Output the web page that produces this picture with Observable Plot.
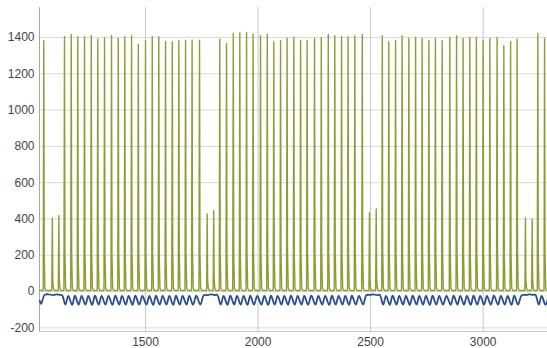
<!DOCTYPE html>
<html><head><meta charset="utf-8">
<script src="https://cdn.jsdelivr.net/npm/d3@7"></script>
<script src="https://cdn.jsdelivr.net/npm/@observablehq/plot@0.6"></script>
<style>body{margin:0;background:#fff} svg{display:block}</style>
</head><body><div id="chart"></div>
<script>
// Green series: spike peak positions and heights
const spikeX = [1048,1086,1115,1140,1170,1199,1229,1259,1288,1318,1349,1379,1408,1438,1468,1500,1530,1559,1589,1619,
  1648,1678,1707,1740,1774,1803,1830,1860,1890,1919,1949,1978,2011,2041,2070,2100,2129,2159,2189,2218,
  2251,2281,2312,2341,2371,2400,2430,2463,2495,2525,2552,2581,2611,2640,2670,2700,2729,2759,2788,2818,
  2852,2882,2911,2941,2970,3000,3030,3062,3092,3122,3151,3188,3218,3243,3273];
const spikeY = [1382,406,419,1404,1417,1404,1404,1409,1391,1398,1409,1394,1404,1409,1363,1382,1404,1404,1376,1376,
  1382,1385,1385,1385,428,446,1391,1367,1422,1426,1428,1418,1409,1418,1376,1382,1395,1400,1385,1385,
  1395,1400,1417,1409,1404,1404,1409,1417,435,455,1409,1376,1385,1409,1394,1400,1394,1385,1394,1382,
  1400,1409,1394,1400,1400,1385,1394,1400,1354,1376,1391,406,400,1422,1394];
const greenBase = 6;
// Blue series: trough just after each spike, crest between spikes
const blueLow = [-18,-20,-18,-72,-73,-72,-72,-73,-72,-72,-73,-72,-72,-73,-72,-72,-73,-72,-72,-73,
  -72,-72,-73,-72,-20,-19,-72,-73,-72,-72,-73,-72,-72,-73,-72,-72,-73,-72,-72,-73,
  -72,-72,-73,-72,-72,-73,-72,-72,-18,-20,-72,-73,-72,-72,-73,-72,-72,-73,-72,-72,
  -73,-72,-72,-73,-72,-72,-73,-72,-72,-73,-72,-19,-18,-72,-73];
const blueHigh = [-15,-15,-20,-24,-23,-24,-24,-23,-24,-24,-23,-24,-24,-23,-24,-24,-23,-24,-24,-23,
  -24,-24,-23,-20,-15,-18,-24,-23,-24,-24,-23,-24,-24,-23,-24,-24,-23,-24,-24,-23,
  -24,-24,-23,-24,-24,-23,-24,-20,-15,-18,-24,-23,-24,-24,-23,-24,-24,-23,-24,-24,
  -23,-24,-24,-23,-24,-24,-23,-24,-24,-23,-20,-15,-18,-24,-24];
const blueStartX = [1030, 1036];
const blueStartY = [-50, -68];
const xTicks = [1500, 2000, 2500, 3000];
const yTicks = [-200, 0, 200, 400, 600, 800, 1000, 1200, 1400];
const xDomain = [1029, 3286];
const yDomain = [-220, 1565];

const green = [{x: xDomain[0], y: greenBase}];
spikeX.forEach((t, i) => {
  const h = spikeY[i];
  green.push({x: t - 2.5, y: greenBase}, {x: t, y: h}, {x: t + 2, y: h * 0.15}, {x: t + 5, y: greenBase + 12}, {x: t + 9, y: greenBase});
});
green.push({x: xDomain[1], y: greenBase});

const blue = blueStartX.map((x, i) => ({x, y: blueStartY[i]}));
spikeX.forEach((t, i) => {
  blue.push({x: t + 4, y: blueLow[i]});
  const next = i + 1 < spikeX.length ? spikeX[i + 1] : t + 30;
  blue.push({x: (t + next) / 2 + 2, y: blueHigh[i]});
});

const chart = Plot.plot({
  width: 547, height: 348,
  marginLeft: 39, marginRight: 0, marginTop: 7, marginBottom: 17,
  x: {domain: xDomain},
  y: {domain: yDomain},
  style: {fontFamily: "'Liberation Sans', Arial, sans-serif", fontSize: "12px", color: "#444", background: "#fff"},
  marks: [
    Plot.ruleY(yTicks, {stroke: "#d9d9d9", strokeWidth: 1}),
    Plot.ruleX(xTicks, {stroke: "#c8c8c8", strokeWidth: 1}),
    Plot.ruleY([yDomain[0]], {stroke: "#c8c8c8", strokeWidth: 1}),
    Plot.ruleX([xDomain[0]], {stroke: "#a8a8a8", strokeWidth: 1}),
    Plot.line(blue, {x: "x", y: "y", stroke: "#2e4d8f", strokeWidth: 1.8, curve: "catmull-rom", clip: true}),
    Plot.line(green, {x: "x", y: "y", stroke: "#8c9d35", strokeWidth: 1.4, clip: true}),
    Plot.axisY({ticks: yTicks, tickSize: 0, tickPadding: 5, tickFormat: d => String(d), label: null}),
    Plot.axisX({ticks: xTicks, tickSize: 0, tickPadding: 6, tickFormat: d => String(d), label: null})
  ]
});
document.getElementById("chart").append(chart);
</script>
</body></html>
